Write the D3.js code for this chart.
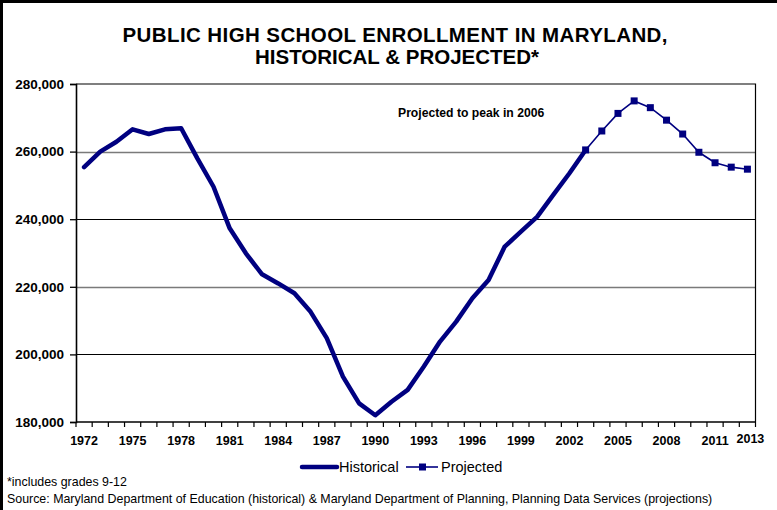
<!DOCTYPE html>
<html>
<head>
<meta charset="utf-8">
<script src="https://cdn.jsdelivr.net/npm/d3@7"></script>
<style>
  body { margin: 0; background: #fff; }
  svg { display: block; font-family: "Liberation Sans", Arial, sans-serif; }
</style>
</head>
<body>
<svg></svg>
<script>
const width = 777;
const height = 510;

// data
const years = d3.range(1972, 2014);
const histYears = d3.range(1972, 2004);
const histValues = [255400, 260000, 262900, 266600, 265200, 266600, 266900, 258000,
  249600, 237300, 229900, 223700, 221000, 218100, 212600, 204800, 193400, 185500,
  182000, 186000, 189500, 196400, 203800, 209700, 216600, 222000, 231900, 236300,
  240700, 247200, 253600, 260500];
const projYears = d3.range(2003, 2014);
const projValues = [260500, 266100, 271300, 275000, 273000, 269300, 265200, 259800,
  256700, 255400, 254800];
const xLabels = [1972, 1975, 1978, 1981, 1984, 1987, 1990, 1993, 1996, 1999, 2002, 2005, 2008, 2011, 2013];
const yTicks = [180000, 200000, 220000, 240000, 260000, 280000];

const navy = "#000080";

const svg = d3.select("svg")
  .attr("width", width)
  .attr("height", height);

// outer chart border (only top/left visible)
svg.append("rect")
  .attr("x", 1.5).attr("y", 1.5)
  .attr("width", width + 10).attr("height", height + 10)
  .attr("fill", "#fff")
  .attr("stroke", "#000")
  .attr("stroke-width", 3);

const x = d3.scaleBand()
  .domain(years)
  .range([76, 755.5]);

const y = d3.scaleLinear()
  .domain([180000, 280000])
  .range([422, 84]);

const cx = d => x(d) + x.bandwidth() / 2;

// title
const title = svg.append("text")
  .attr("text-anchor", "middle")
  .attr("font-weight", "bold")
  .attr("font-size", 20.5);
title.append("tspan").attr("x", 395).attr("y", 42).attr("textLength", 545)
  .text("PUBLIC HIGH SCHOOL ENROLLMENT IN MARYLAND,");
title.append("tspan").attr("x", 397).attr("y", 64)
  .text("HISTORICAL & PROJECTED*");

// gridlines
svg.append("g")
  .selectAll("line")
  .data(yTicks.slice(1, -1))
  .join("line")
  .attr("x1", 76).attr("x2", 755.5)
  .attr("y1", d => Math.round(y(d)) + 0.5)
  .attr("y2", d => Math.round(y(d)) + 0.5)
  .attr("stroke", (d, i) => i % 2 ? "#7a7a7a" : "#000")
  .attr("stroke-width", (d, i) => i % 2 ? 1.6 : 1);

// plot frame top and right
svg.append("path")
  .attr("d", `M76,${y(280000)}H755.5V${y(180000)}`)
  .attr("fill", "none")
  .attr("stroke", "#000")
  .attr("stroke-width", 1.2);

// y axis
const yAxis = svg.append("g")
  .attr("transform", "translate(76,0)")
  .call(d3.axisLeft(y).tickValues(yTicks).tickSize(6).tickPadding(6).tickFormat(d3.format(",")));
yAxis.select(".domain").attr("stroke-width", 1.6);
yAxis.selectAll(".tick line").attr("stroke-width", 1.3);
yAxis.selectAll("text")
  .attr("font-family", "Liberation Sans, Arial, sans-serif")
  .attr("font-weight", "bold")
  .attr("font-size", 13.5)
  .attr("fill", "#000");

// x axis with ticks on category boundaries
const xg = svg.append("g").attr("transform", `translate(0,${y(180000)})`);
xg.append("line")
  .attr("x1", 76).attr("x2", 755.5)
  .attr("stroke", "#000").attr("stroke-width", 1.6);
xg.selectAll(".tk")
  .data(years.concat([null]))
  .join("line")
  .attr("class", "tk")
  .attr("x1", d => d === null ? 755.5 : x(d))
  .attr("x2", d => d === null ? 755.5 : x(d))
  .attr("y1", 0).attr("y2", 5)
  .attr("stroke", "#000").attr("stroke-width", 1.2);
xg.selectAll(".lb")
  .data(xLabels)
  .join("text")
  .attr("class", "lb")
  .attr("x", d => cx(d) + (d === 2013 ? 3 : 0))
  .attr("y", d => d === 2013 ? 21 : 23)
  .attr("text-anchor", "middle")
  .attr("font-weight", "bold")
  .attr("font-size", 12.5)
  .text(d => d);

// lines
const line = d3.line()
  .x(d => cx(d[0]))
  .y(d => y(d[1]));

const histData = histYears.map((yr, i) => [yr, histValues[i]]);
const projData = projYears.map((yr, i) => [yr, projValues[i]]);

svg.append("path")
  .datum(projData)
  .attr("d", line)
  .attr("fill", "none")
  .attr("stroke", navy)
  .attr("stroke-width", 1.6);

svg.append("path")
  .datum(histData)
  .attr("d", line)
  .attr("fill", "none")
  .attr("stroke", navy)
  .attr("stroke-width", 4.5)
  .attr("stroke-linejoin", "round")
  .attr("stroke-linecap", "round");

svg.append("g")
  .selectAll("rect")
  .data(projData)
  .join("rect")
  .attr("x", d => cx(d[0]) - 3.5)
  .attr("y", d => y(d[1]) - 3.5)
  .attr("width", 7).attr("height", 7)
  .attr("fill", navy);

// annotation
svg.append("text")
  .attr("x", 398).attr("y", 117)
  .attr("font-weight", "bold")
  .attr("font-size", 12.2)
  .text("Projected to peak in 2006");

// legend
const lg = svg.append("g").attr("font-size", 14.5);
lg.append("line")
  .attr("x1", 302).attr("x2", 337).attr("y1", 467).attr("y2", 467)
  .attr("stroke", navy).attr("stroke-width", 4.5).attr("stroke-linecap", "round");
lg.append("text").attr("x", 339).attr("y", 472).text("Historical");
lg.append("line")
  .attr("x1", 406).attr("x2", 438).attr("y1", 467).attr("y2", 467)
  .attr("stroke", navy).attr("stroke-width", 1.6);
lg.append("rect")
  .attr("x", 419).attr("y", 463.5).attr("width", 7).attr("height", 7)
  .attr("fill", navy);
lg.append("text").attr("x", 441).attr("y", 472).text("Projected");

// footnotes
svg.append("text")
  .attr("x", 7).attr("y", 486)
  .attr("font-size", 12.4)
  .text("*includes grades 9-12");
svg.append("text")
  .attr("x", 7).attr("y", 503)
  .attr("font-size", 12.4)
  .text("Source: Maryland Department of Education (historical) & Maryland Department of Planning, Planning Data Services (projections)");
</script>
</body>
</html>
